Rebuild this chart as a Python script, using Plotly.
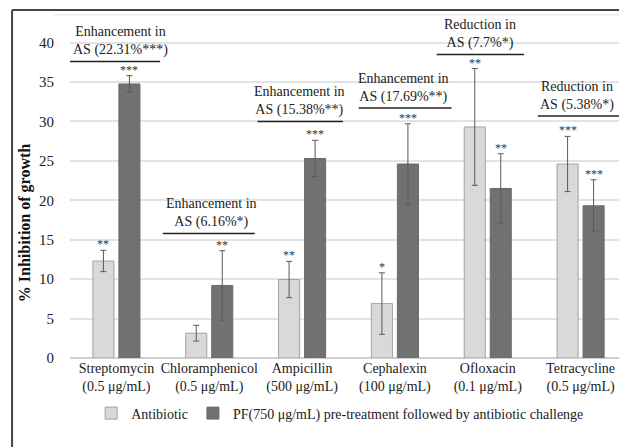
import plotly.graph_objects as go

# datos
categorias = ["Streptomycin<br>(0.5 μg/mL)", "Chloramphenicol<br>(0.5 μg/mL)",
              "Ampicillin<br>(500 μg/mL)", "Cephalexin<br>(100 μg/mL)",
              "Ofloxacin<br>(0.1 μg/mL)", "Tetracycline<br>(0.5 μg/mL)"]
antibiotico = [12.3, 3.15, 9.95, 6.9, 29.3, 24.6]
antibiotico_err = [1.35, 1.0, 2.3, 3.9, 7.4, 3.5]
pf = [34.75, 9.2, 25.3, 24.6, 21.5, 19.3]
pf_err = [1.05, 4.4, 2.3, 5.1, 4.4, 3.3]
estrellas_ab = ["**", "", "**", "*", "**", "***"]
estrellas_pf = ["***", "**", "***", "***", "**", "***"]

# texto de cambio en AS, posicion del texto y extension de la linea (unidades de categoria)
cambio_txt = ["Enhancement in<br>AS (22.31%***)", "Enhancement in<br>AS (6.16%*)",
              "Enhancement in<br>AS (15.38%**)", "Enhancement in<br>AS (17.69%**)",
              "Reduction in<br>AS (7.7%*)", "Reduction in<br>AS (5.38%*)"]
texto_x = [0.04, 1.02, 1.97, 3.09, 3.92, 4.96]
linea_y = [37.6, 15.8, 30.0, 31.7, 38.5, 30.7]
linea_x0 = [-0.50, 0.50, 1.52, 2.61, 3.45, 4.54]
linea_x1 = [0.47, 1.49, 2.44, 3.61, 4.39, 5.50]

FUENTE = "Liberation Serif, Times New Roman, serif"
x_idx = list(range(len(categorias)))

fig = go.Figure()
fig.add_trace(go.Bar(
    x=x_idx, y=antibiotico, name="Antibiotic",
    marker=dict(color="#d9d9d9", line=dict(color="#a3a3a3", width=1)),
    error_y=dict(type="data", array=antibiotico_err, color="#5a5a5a", thickness=1, width=3)))
fig.add_trace(go.Bar(
    x=x_idx, y=pf, name="PF(750 μg/mL) pre-treatment followed by antibiotic challenge",
    marker=dict(color="#717171", line=dict(color="#6a6a6a", width=1)),
    error_y=dict(type="data", array=pf_err, color="#5a5a5a", thickness=1, width=3)))

dx = 0.14
for i in x_idx:
    if estrellas_ab[i]:
        fig.add_annotation(x=i - dx, y=antibiotico[i] + antibiotico_err[i], text=estrellas_ab[i],
                           showarrow=False, yanchor="bottom", yshift=-3,
                           font=dict(family=FUENTE, size=12, color="#333"))
    if estrellas_pf[i]:
        fig.add_annotation(x=i + dx, y=pf[i] + pf_err[i], text=estrellas_pf[i],
                           showarrow=False, yanchor="bottom", yshift=-3,
                           font=dict(family=FUENTE, size=12, color="#333"))
    # linea y texto de cambio
    fig.add_shape(type="line", x0=linea_x0[i], x1=linea_x1[i], y0=linea_y[i], y1=linea_y[i],
                  line=dict(color="#222", width=1.5))
    fig.add_annotation(x=texto_x[i], y=linea_y[i], text=cambio_txt[i],
                       showarrow=False, yanchor="bottom", yshift=1,
                       font=dict(family=FUENTE, size=14, color="#222"))

# titulo del eje y
fig.add_annotation(xref="paper", x=-0.081, y=17.2, text="<b>% Inhibition of growth</b>",
                   textangle=-90, showarrow=False, xanchor="center",
                   font=dict(family=FUENTE, size=16, color="#111"))

# marco recortado (lados superior e izquierdo)
fig.add_shape(type="line", xref="paper", yref="paper", x0=-0.104, x1=1.02, y0=1.003, y1=1.003,
              line=dict(color="#444", width=2))
fig.add_shape(type="line", xref="paper", yref="paper", x0=-0.104, x1=-0.104, y0=1.003, y1=-0.3,
              line=dict(color="#444", width=2))
fig.add_shape(type="line", xref="paper", yref="paper", x0=-0.03, x1=1.02, y0=0.989, y1=0.989,
              line=dict(color="#eeeeee", width=1.5))

# la pagina tiene 8 px de margen en el body: la figura es 8 px mas pequena
fig.update_layout(
    width=619, height=439,
    margin=dict(l=62, r=0, t=3, b=89),
    paper_bgcolor="white", plot_bgcolor="white",
    barmode="group", bargap=0.44, bargroupgap=0.19,
    font=dict(family=FUENTE, size=14, color="#222"),
    xaxis=dict(range=[-0.5, 5.5], tickvals=x_idx, ticktext=categorias, showgrid=False,
               showline=False, zeroline=False, tickangle=0, automargin=False,
               tickfont=dict(size=14)),
    yaxis=dict(range=[0, 44], tickvals=[0, 5, 10, 15, 20, 25, 30, 35, 40],
               showgrid=True, gridcolor="#e3e3e3", gridwidth=2, zeroline=True,
               zerolinecolor="#cfcfcf", zerolinewidth=1.5, ticklabelstandoff=15,
               automargin=False, tickfont=dict(size=15)),
    legend=dict(orientation="h", x=0.485, xanchor="center", y=-0.16, yanchor="middle",
                font=dict(size=14), itemwidth=30, traceorder="normal"),
    showlegend=True,
)

fig.write_html("out.html")
